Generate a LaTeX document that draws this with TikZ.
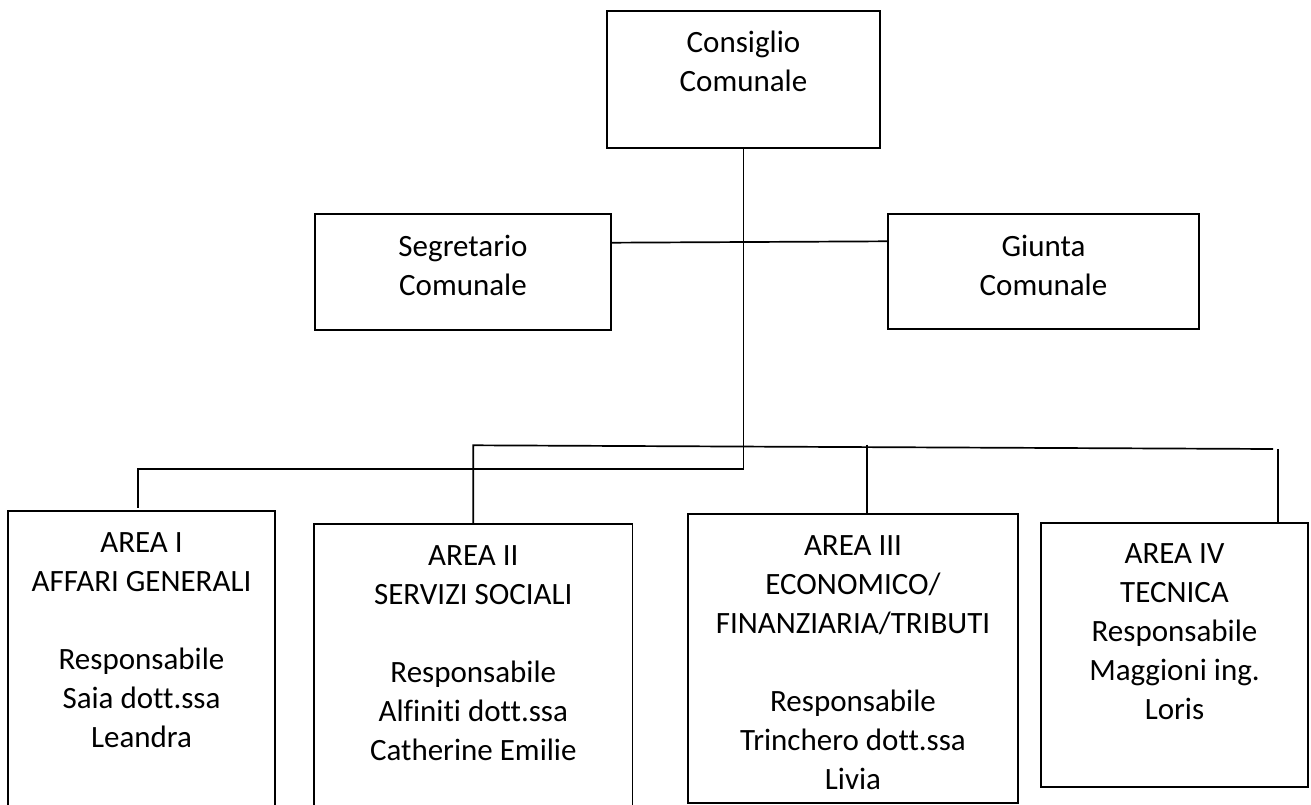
\documentclass[tikz,border=0pt]{standalone}
\usepackage{fontspec}
\setmainfont{Carlito}[Ligatures=NoCommon]
\usetikzlibrary{calc}

\tikzset{
  box/.style={draw, line width=1.6pt, inner sep=0pt, outer sep=0pt, anchor=north west},
  % multi-line labels: the base anchor sits on the baseline of the last line
  lbl/.style={font=\fontsize{31}{39}\selectfont, align=center, inner sep=0pt, anchor=base},
  link/.style={draw, line width=1.7pt}
}

\begin{document}
\begin{tikzpicture}[x=1pt, y=-1pt]
  \useasboundingbox (0,0) rectangle (1311,805);
  \clip (0,0) rectangle (1311,805);

  % boxes
  \node[box, minimum width=273pt, minimum height=137pt] (cc) at (607,11) {};
  \node[box, minimum width=296pt, minimum height=116pt] (seg) at (315,214) {};
  \node[box, minimum width=311pt, minimum height=115pt] (giu) at (888,214) {};
  \node[box, minimum width=267pt, minimum height=330pt] (a1) at (8,511) {};
  \node[box, minimum width=318.6pt, minimum height=320pt] (a2) at (314,524) {};
  \node[box, minimum width=330pt, minimum height=288.7pt] (a3) at (688,514) {};
  \node[box, minimum width=267pt, minimum height=264.3pt] (a4) at (1041,522.7) {};

  % texts
  \node[lbl] (cct) at (743.5,91.5) {Consiglio\\Comunale};
  \node[lbl] (segt) at (463,295) {Segretario\\Comunale};
  \node[lbl] (giut) at (1043.5,295) {Giunta\\Comunale};
  \node[lbl] (a1t) at (141.5,747) {AREA I\\AFFARI GENERALI\\[39pt]Responsabile\\Saia dott.ssa\\Leandra};
  \node[lbl] (a2t) at (473.3,760.5) {AREA II\\SERVIZI SOCIALI\\[39pt]Responsabile\\Alfiniti dott.ssa\\Catherine Emilie};
  \node[lbl] (a3t) at (853,789) {AREA III\\ECONOMICO/\\FINANZIARIA/TRIBUTI\\[39pt]Responsabile\\Trinchero dott.ssa\\Livia};
  \node[lbl] (a4t) at (1174.5,719) {AREA IV\\TECNICA\\Responsabile\\Maggioni ing.\\Loris};

  % junction points
  \coordinate (ylow) at (0,469);
  \coordinate (j0) at (cc.south |- ylow);
  \coordinate (a1in) at (137.7,508);
  \coordinate (u1) at (473.3,445.3);
  \coordinate (u2) at (1273,449);
  \coordinate (u3) at (866.7,444.7);
  \coordinate (u4) at (1278,449);
  \coordinate (s1) at (0,242.7);
  \coordinate (g1) at (0,241.3);

  % connectors
  \draw[link] (cc.south) -- (j0);
  \draw[link] (seg.east |- s1) -- (giu.west |- g1);
  \draw[link] (j0) -| (a1in);
  \draw[link] (a2.north) -- (u1) -- (u2);
  \draw[link] (u3) -- (u3 |- a3.north);
  \draw[link] (u4) -- (u4 |- a4.north);
\end{tikzpicture}
\end{document}
